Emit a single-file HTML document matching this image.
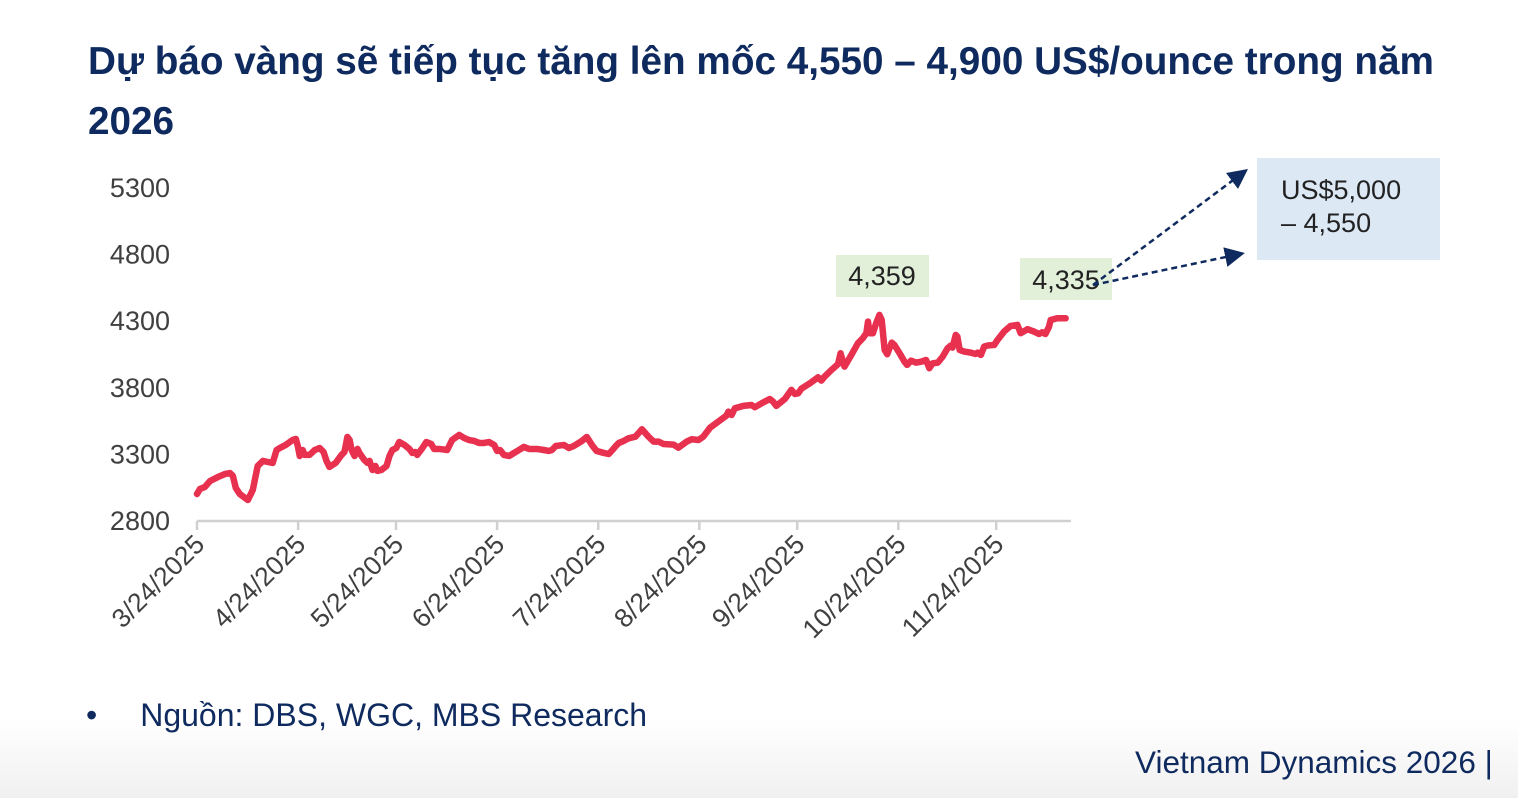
<!DOCTYPE html>
<html><head><meta charset="utf-8">
<style>
body{margin:0;width:1518px;height:798px;overflow:hidden;background:#fff;font-family:"Liberation Sans",Arial,sans-serif;position:relative}
.title{position:absolute;left:88px;top:32px;width:1420px;font-size:38.7px;font-weight:bold;color:#0e2a5e;line-height:60px}
.src{position:absolute;left:86px;top:697px;font-size:32px;color:#0e2a5e}
.foot{position:absolute;left:1135px;top:744px;font-size:31.5px;color:#0e2a5e}
.fade{position:absolute;left:0;top:720px;width:1518px;height:78px;background:linear-gradient(#fff,#f0f0f0)}
</style></head><body>
<div class="fade"></div>
<div class="title">Dự báo vàng sẽ tiếp tục tăng lên mốc 4,550 – 4,900 US$/ounce trong năm<br>2026</div>
<svg id="chart" width="1518" height="798" style="position:absolute;left:0;top:0"></svg>
<div class="src">•<span style="margin-left:43px">Nguồn: DBS, WGC, MBS Research</span></div>
<div class="foot">Vietnam Dynamics 2026 |</div>
<script>
const days=[0,0.9,2.4,4,6.4,8.6,10.1,11,11.9,13.1,15.6,17.1,18.6,20.2,21.7,23.2,24.4,25.4,27.2,29.3,30.3,30.9,31.5,32.4,33,34.5,36.1,37.6,38.8,39.7,40.6,42.5,44.3,45.2,46.1,46.8,47.4,48.3,49.2,49.8,51.3,52.3,52.9,53.8,54.7,55.3,56.5,58.1,59,59.9,61.1,62,63.6,65.1,66,66.9,67.5,69.1,70.3,71.8,72.7,74.3,76.7,78.2,80.4,81.9,83.4,85,86.5,88,89.5,91.1,92,92.9,94.1,95.7,97.2,98.7,100.2,101.8,104.2,106.3,107.9,108.8,110,112.5,114,115.5,118,119.5,120.1,121.3,122.5,124.7,126.2,127.1,128.4,129.3,130.8,132.3,134.4,136.4,138.4,140,141.5,143,146.1,147.6,148.6,150.1,151.7,153.7,155.2,157.3,159.8,162.3,162.9,163.9,164.9,167.5,170,171,173.1,175.6,176.6,177.6,180.2,182.2,183.3,184.3,185.3,187.9,190.4,191.4,192.4,194.5,196.5,197.3,198,198.5,200.6,202.6,204.1,205.2,205.7,206.2,207.2,208.2,209.2,209.9,210.8,211.6,212.3,213,213.8,215.4,216.9,217.7,218.9,220.4,222,223.5,224.5,225.5,227.1,228.6,230.1,231.1,231.6,232.6,233.1,233.8,235.2,237.2,238.7,239.3,240.3,241.3,242.3,244.4,245.4,247.4,249.4,251.5,252.5,254.6,256.6,258.1,259.1,260.1,261.2,261.7,263.7,266.3];
const prices=[3003,3040,3055,3100,3130,3153,3160,3138,3048,3003,2958,3033,3213,3251,3243,3236,3333,3348,3371,3408,3416,3363,3288,3333,3296,3296,3333,3348,3318,3251,3206,3236,3296,3318,3431,3408,3333,3288,3341,3311,3258,3236,3251,3183,3213,3176,3183,3213,3288,3333,3348,3393,3371,3341,3311,3318,3296,3348,3393,3378,3341,3341,3333,3408,3446,3423,3408,3401,3386,3386,3393,3371,3326,3333,3296,3288,3311,3333,3356,3341,3341,3333,3326,3333,3363,3371,3348,3363,3401,3431,3408,3363,3326,3311,3303,3326,3363,3386,3401,3421,3433,3489,3433,3396,3396,3378,3373,3350,3369,3396,3414,3408,3433,3501,3546,3591,3621,3596,3646,3664,3671,3654,3684,3716,3696,3664,3716,3784,3754,3759,3794,3834,3879,3854,3884,3934,3977,4059,3996,3959,4047,4134,4172,4210,4297,4210,4210,4285,4347,4310,4084,4052,4097,4139,4122,4059,3996,3972,4004,3989,3996,4009,3947,3984,3989,4034,4097,4117,4102,4197,4184,4084,4072,4064,4054,4064,4047,4109,4117,4122,4159,4222,4264,4272,4210,4240,4222,4204,4217,4204,4259,4309,4322,4322];
const yTicks=[2800,3300,3800,4300,4800,5300];
const xTickDays=[0,31,61,92,123,154,184,215,245];
const xTickLabels=["3/24/2025","4/24/2025","5/24/2025","6/24/2025","7/24/2025","8/24/2025","9/24/2025","10/24/2025","11/24/2025"];
const svg=document.getElementById('chart');const NS='http://www.w3.org/2000/svg';
const x=d=>197+d*3.262;const y=v=>521-(v-2800)*66.6/500;
function mk(t,a,p){const e=document.createElementNS(NS,t);for(const k in a)e.setAttribute(k,a[k]);(p||svg).appendChild(e);return e;}
yTicks.forEach(v=>{const t=mk('text',{x:170,y:y(v)+9,'text-anchor':'end','font-size':27,fill:'#404040'});t.textContent=v;

});
const ax=mk('line',{x1:197,y1:521,x2:1071,y2:521,stroke:'#d0d0d0','stroke-width':2.5});


xTickDays.forEach((d,i)=>{const tk=mk('line',{x1:x(d),y1:521,x2:x(d),y2:530,stroke:'#d0d0d0','stroke-width':2.5});


const t=mk('text',{x:x(d)+9,y:546,'text-anchor':'end','font-size':26.5,fill:'#404040',transform:`rotate(-45 ${x(d)+9} 546)`});t.textContent=xTickLabels[i];

});
const line=mk('polyline',{points:days.map((d,i)=>x(d)+','+y(prices[i])).join(' '),fill:'none',stroke:'#e8304f','stroke-width':6.5,'stroke-linejoin':'round','stroke-linecap':'round'});


function box(bx,by,w,h,fill,lines,name,tx,ty,anchor){const g=mk('g',{});


mk('rect',{x:bx,y:by,width:w,height:h,fill:fill},g);lines.forEach((s,i)=>{const t=mk('text',{x:tx,y:ty+i*33,'font-size':27,fill:'#222','text-anchor':anchor},g);t.textContent=s;});}
box(836,255,93,42,'#e2efd9',['4,359'],'peak-label',882,285,'middle');
box(1020,258,92,42,'#e2efd9',['4,335'],'last-label',1066,289,'middle');
const defs=mk('defs',{});const m=mk('marker',{id:'ah',markerWidth:8,markerHeight:8,refX:6,refY:4,orient:'auto'},defs);mk('path',{d:'M0,0 L8,4 L0,8 z',fill:'#0e2a5e'},m);
[[1093,285,1244,172],[1093,285,1240,254]].forEach(a=>{const l=mk('line',{x1:a[0],y1:a[1],x2:a[2],y2:a[3],stroke:'#0e2a5e','stroke-width':2.5,'stroke-dasharray':'6,4','marker-end':'url(#ah)'});

});
box(1257,158,183,102,'#dce9f5',['US$5,000','– 4,550'],'forecast-box',1281,199,'start');
</script>
</body></html>
